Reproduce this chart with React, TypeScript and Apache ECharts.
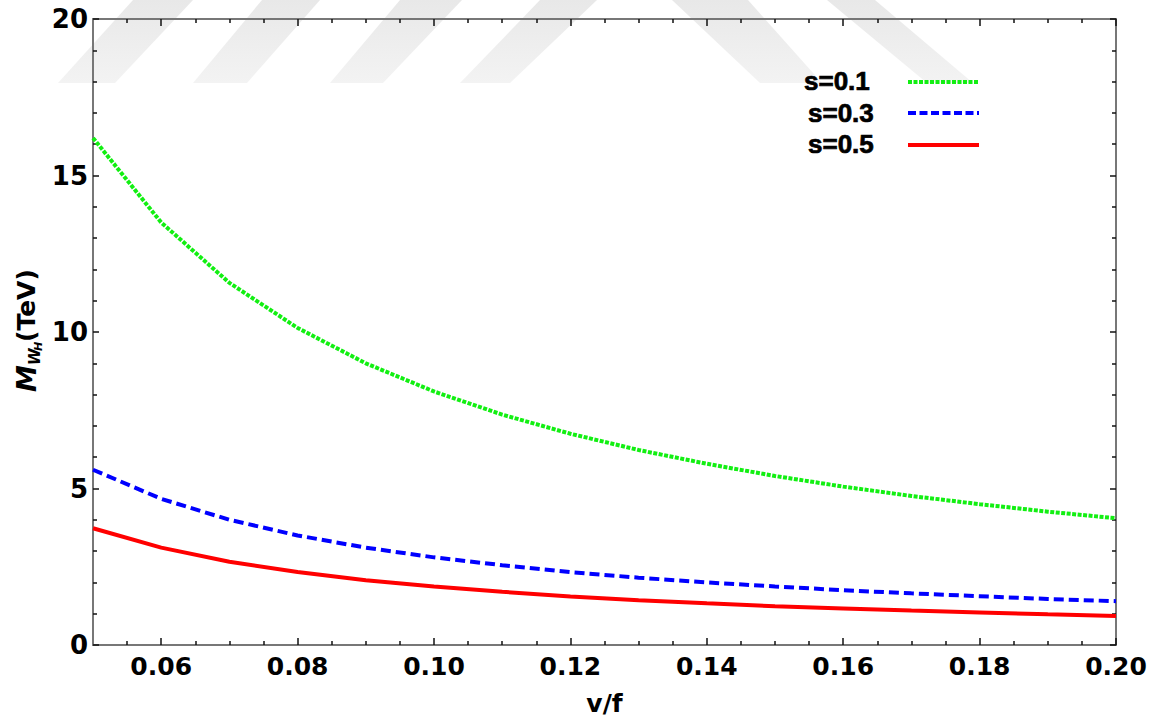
import React, { useEffect, useRef } from "react";
import * as echarts from "echarts";

const vOverF = [0.05, 0.06, 0.07, 0.08, 0.09, 0.1, 0.11, 0.12, 0.13, 0.14, 0.15, 0.16, 0.17, 0.18, 0.19, 0.2];
const massS01 = [16.2, 13.5, 11.57, 10.13, 9.0, 8.1, 7.36, 6.75, 6.23, 5.79, 5.4, 5.06, 4.76, 4.5, 4.26, 4.05];
const massS03 = [5.6, 4.67, 4.0, 3.5, 3.11, 2.8, 2.55, 2.33, 2.15, 2.0, 1.87, 1.75, 1.65, 1.56, 1.47, 1.4];
const massS05 = [3.73, 3.11, 2.66, 2.33, 2.07, 1.87, 1.7, 1.55, 1.43, 1.33, 1.24, 1.17, 1.1, 1.04, 0.98, 0.93];
const seriesNames = ["s=0.1", "s=0.3", "s=0.5"];
const xMajorLabels = [0.06, 0.08, 0.1, 0.12, 0.14, 0.16, 0.18, 0.2];
const xMinorTicks = [0.055, 0.065, 0.07, 0.075, 0.085, 0.09, 0.095, 0.105, 0.11, 0.115, 0.125, 0.13, 0.135, 0.145, 0.15, 0.155, 0.165, 0.17, 0.175, 0.185, 0.19, 0.195];

const FONT = "DejaVu Sans";
const AXIS_GRAY = "#777777";

function stripe(points: number[][]) {
  return {
    type: "polygon",
    z: -10,
    silent: true,
    shape: { points },
    style: {
      fill: new echarts.graphic.LinearGradient(0, 0, 0, 1, [
        { offset: 0, color: "#e8e8e8" },
        { offset: 1, color: "#f3f3f3" },
      ]),
    },
  };
}

export default function App() {
  const ref = useRef<HTMLDivElement>(null);
  useEffect(() => {
    if (!ref.current) return;
    const chart = echarts.init(ref.current, null, { renderer: "svg" });
    const pairs = (ys: number[]) => vOverF.map((x, i) => [x, ys[i]]);
    const xCommon = {
      type: "value",
      min: 0.05,
      max: 0.2,
      interval: 0.01,
      splitLine: { show: false },
    };
    const yCommon = {
      type: "value",
      min: 0,
      max: 20,
      interval: 5,
      splitLine: { show: false },
      minorSplitLine: { show: false },
    };
    const legendText = (text: string, x: number, y: number) => ({
      type: "text",
      x,
      y,
      style: {
        text,
        fontFamily: "Liberation Sans",
        fontWeight: "bold",
        fontSize: 26,
        fill: "#000",
        stroke: "#000",
        lineWidth: 0.7,
        verticalAlign: "middle",
      },
    });
    chart.setOption({
      animation: false,
      backgroundColor: "#ffffff",
      grid: { left: 93, right: 44, top: 19, bottom: 71, show: false },
      xAxis: [
        {
          ...xCommon,
          position: "bottom",
          name: "v/f",
          nameLocation: "middle",
          nameGap: 46,
          nameTextStyle: { fontFamily: FONT, fontWeight: "bold", fontSize: 25, color: "#000" },
          axisLine: { show: true, lineStyle: { color: AXIS_GRAY, width: 2 } },
          axisTick: { show: true, inside: true, length: 7, customValues: xMajorLabels, lineStyle: { color: "#111", width: 1.5 } },
          axisLabel: {
            show: true,
            customValues: xMajorLabels,
            margin: 9,
            formatter: (v: number) => v.toFixed(2),
            fontFamily: FONT,
            fontWeight: "bold",
            fontSize: 25,
            color: "#000",
          },
        },
        {
          ...xCommon,
          position: "bottom",
          axisLine: { show: false },
          axisTick: { show: true, inside: true, length: 4, customValues: xMinorTicks, lineStyle: { color: "#111", width: 1.5 } },
          axisLabel: { show: false },
        },
        {
          ...xCommon,
          position: "top",
          axisLine: { show: true, lineStyle: { color: AXIS_GRAY, width: 2 } },
          axisTick: { show: true, inside: true, length: 7, customValues: xMajorLabels, lineStyle: { color: "#111", width: 1.5 } },
          axisLabel: { show: false },
        },
        {
          ...xCommon,
          position: "top",
          axisLine: { show: false },
          axisTick: { show: true, inside: true, length: 4, customValues: xMinorTicks, lineStyle: { color: "#111", width: 1.5 } },
          axisLabel: { show: false },
        },
      ],
      yAxis: [
        {
          ...yCommon,
          position: "left",
          axisLine: { show: true, lineStyle: { color: AXIS_GRAY, width: 2 } },
          axisTick: { show: true, inside: true, length: 6, lineStyle: { color: "#111", width: 1.5 } },
          minorTick: { show: true, splitNumber: 5, length: 4, lineStyle: { color: "#111", width: 1.5 } },
          axisLabel: { show: true, margin: 5, fontFamily: FONT, fontWeight: "bold", fontSize: 26, color: "#000" },
        },
        {
          ...yCommon,
          position: "right",
          axisLine: { show: true, lineStyle: { color: AXIS_GRAY, width: 2 } },
          axisTick: { show: true, inside: true, length: 6, lineStyle: { color: "#111", width: 1.5 } },
          minorTick: { show: true, splitNumber: 5, length: 4, lineStyle: { color: "#111", width: 1.5 } },
          axisLabel: { show: false },
        },
      ],
      series: [
        {
          name: seriesNames[0],
          type: "line",
          data: pairs(massS01),
          showSymbol: false,
          symbol: "none",
          lineStyle: { color: "#12ef12", width: 4, type: [4, 1.5] },
        },
        {
          name: seriesNames[1],
          type: "line",
          data: pairs(massS03),
          showSymbol: false,
          symbol: "none",
          lineStyle: { color: "#0000ff", width: 4, type: [10, 5] },
        },
        {
          name: seriesNames[2],
          type: "line",
          data: pairs(massS05),
          showSymbol: false,
          symbol: "none",
          lineStyle: { color: "#ff0000", width: 4 },
        },
      ],
      graphic: {
        elements: [
          stripe([[133, 0], [193, 0], [115, 83], [58, 83]]),
          stripe([[262, 0], [320, 0], [247, 83], [193, 83]]),
          stripe([[400, 0], [462, 0], [383, 83], [330, 83]]),
          stripe([[540, 0], [597, 0], [510, 83], [460, 83]]),
          stripe([[672, 0], [748, 0], [822, 83], [760, 83]]),
          stripe([[827, 0], [875, 0], [973, 83], [927, 83]]),
          {
            type: "group",
            x: 36,
            y: 392,
            rotation: Math.PI / 2,
            children: [
              { type: "text", x: 0, y: -10, style: { text: "M", fontFamily: FONT, fontWeight: "bold", fontStyle: "italic", fontSize: 27, fill: "#000", verticalAlign: "middle" } },
              { type: "text", x: 27, y: -1, style: { text: "W", fontFamily: FONT, fontWeight: "bold", fontStyle: "italic", fontSize: 15, fill: "#000", verticalAlign: "middle" } },
              { type: "text", x: 41, y: 2, style: { text: "H", fontFamily: FONT, fontWeight: "bold", fontStyle: "italic", fontSize: 11, fill: "#000", verticalAlign: "middle" } },
              { type: "text", x: 50, y: -10, style: { text: "(TeV)", fontFamily: FONT, fontWeight: "bold", fontSize: 25, fill: "#000", verticalAlign: "middle" } },
            ],
          },
          legendText(seriesNames[0], 804, 81),
          legendText(seriesNames[1], 808, 113),
          legendText(seriesNames[2], 808, 144),
          { type: "line", shape: { x1: 908, y1: 82, x2: 979, y2: 82 }, style: { stroke: "#12ef12", lineWidth: 4, lineDash: [4, 1.5] } },
          { type: "line", shape: { x1: 908, y1: 113, x2: 979, y2: 113 }, style: { stroke: "#0000ff", lineWidth: 4, lineDash: [8, 3.5] } },
          { type: "line", shape: { x1: 908, y1: 145, x2: 979, y2: 145 }, style: { stroke: "#ff0000", lineWidth: 4 } },
        ],
      },
    });
    return () => chart.dispose();
  }, []);
  return <div ref={ref} style={{ position: "fixed", left: 0, top: 0, width: 1160, height: 721 }} />;
}
